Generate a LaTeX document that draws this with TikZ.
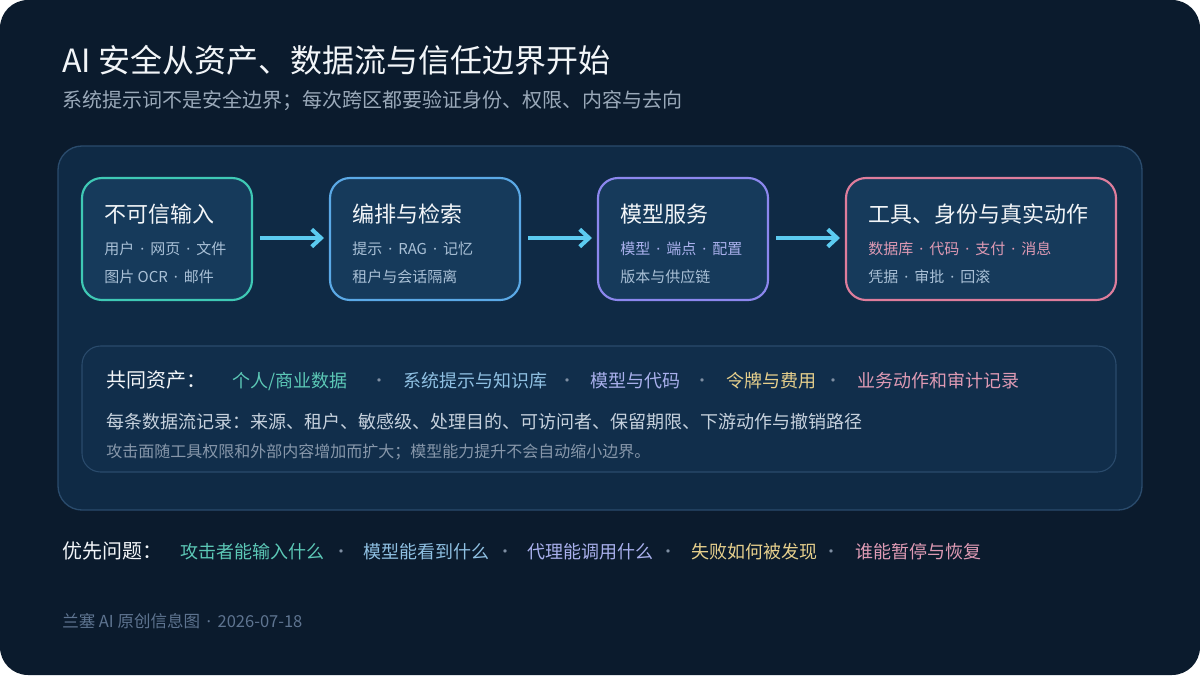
\documentclass[tikz,border=0pt]{standalone}
\usepackage{fontspec}
\setmainfont{Noto Sans CJK SC}
\newfontfamily\latinf{Noto Sans}
\newcommand\md{\hspace{0.4em}{\latinf ·}\hspace{0.4em}}
\usetikzlibrary{arrows.meta}
\definecolor{bgc}{HTML}{0B1B2D}
\definecolor{panelc}{HTML}{0F2A45}
\definecolor{panelline}{HTML}{2A4B6C}
\definecolor{boxfill}{HTML}{163A5B}
\definecolor{assetfill}{HTML}{112E4B}
\definecolor{cteal}{HTML}{3FC9B5}
\definecolor{cblue}{HTML}{5BA9E6}
\definecolor{cpurple}{HTML}{8C87EE}
\definecolor{cpink}{HTML}{DE7D9C}
\definecolor{tteal}{HTML}{5CC8B6}
\definecolor{tblue}{HTML}{8FC0E2}
\definecolor{tlav}{HTML}{A9B0EC}
\definecolor{tgold}{HTML}{E6CF8C}
\definecolor{tpink}{HTML}{DE9AB4}
\definecolor{arrowc}{HTML}{5CCBF0}
\definecolor{titlec}{HTML}{F2F5F8}
\definecolor{subc}{HTML}{9AA9B9}
\definecolor{linec}{HTML}{C6D1DD}
\definecolor{boxtxt}{HTML}{A9C0D6}
\definecolor{smallc}{HTML}{8797AA}
\definecolor{footc}{HTML}{5E7490}
\definecolor{dotc}{HTML}{7F8FA3}
\begin{document}
\begin{tikzpicture}[x=0.75pt,y=-0.75pt,
  fs/.style={font=\fontsize{\fpeval{#1*0.75}pt}{\fpeval{#1*0.9}pt}\selectfont},
  lbl/.style={anchor=base west,inner sep=0pt},
  stagebox/.style={draw=#1,line width=1.6pt,rounded corners=15pt,fill=boxfill},
  flowarrow/.style={draw=arrowc,line width=3pt,-{Straight Barb[length=7pt,width=13pt,line width=3pt]}},
  dotsep/.style={lbl,anchor=base,fs=16,text=dotc}
]
\useasboundingbox (0,0) rectangle (1200,675);
\fill[white] (0,0) rectangle (1200,675);
\fill[bgc,rounded corners=21pt] (0,0) rectangle (1200,675);

% title
\node[lbl,fs=32,text=titlec] (title) at (62,72) {AI 安全从资产、数据流与信任边界开始};
\node[lbl,fs=20,text=subc] (sub) at (62,107) {系统提示词不是安全边界；每次跨区都要验证身份、权限、内容与去向};

% big panel
\draw[panelline,line width=1pt,fill=panelc,rounded corners=18pt] (58,146) rectangle (1142,510);

% stage boxes
\draw[stagebox=cteal] (82,178) rectangle (252,300);
\draw[stagebox=cblue] (330,178) rectangle (520,300);
\draw[stagebox=cpurple] (598,178) rectangle (768,300);
\draw[stagebox=cpink] (846,178) rectangle (1116,300);

\node[lbl,fs=22,text=titlec] (t1) at (104,222) {不可信输入};
\node[lbl,fs=15,text=boxtxt] (t1a) at (104,254) {用户\md 网页\md 文件};
\node[lbl,fs=15,text=boxtxt] (t1b) at (104,282) {图片 OCR\md 邮件};

\node[lbl,fs=22,text=titlec] (t2) at (352,222) {编排与检索};
\node[lbl,fs=15,text=boxtxt] (t2a) at (352,254) {提示\md RAG\md 记忆};
\node[lbl,fs=15,text=boxtxt] (t2b) at (352,282) {租户与会话隔离};

\node[lbl,fs=22,text=titlec] (t3) at (620,222) {模型服务};
\node[lbl,fs=15,text=tlav] (t3a) at (620,254) {模型\md 端点\md 配置};
\node[lbl,fs=15,text=boxtxt] (t3b) at (620,282) {版本与供应链};

\node[lbl,fs=22,text=titlec] (t4) at (868,222) {工具、身份与真实动作};
\node[lbl,fs=15,text=tpink] (t4a) at (868,254) {数据库\md 代码\md 支付\md 消息};
\node[lbl,fs=15,text=boxtxt] (t4b) at (868,282) {凭据\md 审批\md 回滚};

% arrows
\coordinate (a1s) at (260,238); \coordinate (a1e) at (324,238);
\coordinate (a2s) at (528,238); \coordinate (a2e) at (592,238);
\coordinate (a3s) at (776,238); \coordinate (a3e) at (840,238);
\draw[flowarrow] (a1s) -- (a1e);
\draw[flowarrow] (a2s) -- (a2e);
\draw[flowarrow] (a3s) -- (a3e);

% assets box
\draw[panelline,line width=0.8pt,fill=assetfill,rounded corners=14pt] (82,346) rectangle (1116,472);
\node[lbl,fs=20,text=titlec] (ca) at (106,387) {共同资产：};
\node[lbl,fs=18,text=tteal] (ca1) at (232,387) {个人/商业数据};
\node[dotsep] (d1) at (379,386) {·};
\node[lbl,fs=18,text=tblue] (ca2) at (403,387) {系统提示与知识库};
\node[dotsep] (d2) at (567,386) {·};
\node[lbl,fs=18,text=tlav] (ca3) at (590,387) {模型与代码};
\node[dotsep] (d3) at (702,386) {·};
\node[lbl,fs=18,text=tgold] (ca4) at (726,387) {令牌与费用};
\node[dotsep] (d4) at (833,386) {·};
\node[lbl,fs=18,text=tpink] (ca5) at (857,387) {业务动作和审计记录};

\node[lbl,fs=18,text=linec] (rec) at (106,428) {每条数据流记录：来源、租户、敏感级、处理目的、可访问者、保留期限、下游动作与撤销路径};
\node[lbl,fs=16,text=smallc] (note) at (106,457) {攻击面随工具权限和外部内容增加而扩大；模型能力提升不会自动缩小边界。};

% priority questions
\node[lbl,fs=20,text=titlec] (pq) at (62,558) {优先问题：};
\node[lbl,fs=18,text=tteal] (q1) at (180,558) {攻击者能输入什么};
\node[dotsep] (e1) at (341,557) {·};
\node[lbl,fs=18,text=tblue] (q2) at (363,558) {模型能看到什么};
\node[dotsep] (e2) at (505,557) {·};
\node[lbl,fs=18,text=tlav] (q3) at (527,558) {代理能调用什么};
\node[dotsep] (e3) at (668,557) {·};
\node[lbl,fs=18,text=tgold] (q4) at (691,558) {失败如何被发现};
\node[dotsep] (e4) at (831,557) {·};
\node[lbl,fs=18,text=tpink] (q5) at (855,558) {谁能暂停与恢复};

% footer
\node[lbl,fs=16.5,text=footc] (foot) at (62,627) {兰塞 AI 原创信息图\md 2026-07-18};
\end{tikzpicture}
\end{document}
